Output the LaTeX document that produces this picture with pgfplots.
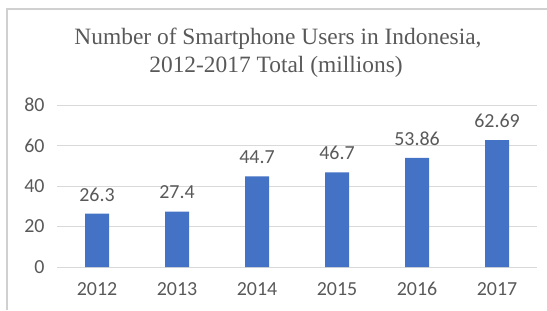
\documentclass[border=0pt]{standalone}
\usepackage{pgfplots}
\pgfplotsset{compat=1.18}
\usepackage{fontspec}
\setmainfont{Carlito}
\newfontfamily\titlefont{Liberation Serif}
\definecolor{barblue}{HTML}{4472C4}
\definecolor{txtgray}{HTML}{595959}
\definecolor{gridgray}{HTML}{D9D9D9}
\definecolor{framegray}{HTML}{D0D0D0}
\begin{document}
\begin{tikzpicture}[x=1bp,y=1bp]
\useasboundingbox (0,0) rectangle (547,310);
\draw[framegray,line width=1.5bp] (7,0) -- (7,301) -- (547,301);
\node[font=\titlefont\fontsize{23.5}{28}\selectfont,text=txtgray] at (278,271) {Number of Smartphone Users in Indonesia,};
\node[font=\titlefont\fontsize{23.5}{28}\selectfont,text=txtgray] at (276,243) {2012-2017 Total (millions)};
\begin{axis}[
  at={(57bp,43bp)}, anchor=south west,
  scale only axis, width=480bp, height=162bp,
  xmin=-0.5, xmax=5.5, ymin=0, ymax=80,
  ytick={0,20,40,60,80},
  xtick={0,1,2,3,4,5},
  xticklabels={2012,2013,2014,2015,2016,2017},
  axis line style={draw=none},
  major tick length=0pt,
  ymajorgrids, grid style={gridgray,line width=1bp},
  tick label style={font=\fontsize{20}{24}\selectfont,text=txtgray},
  /pgf/number format/assume math mode=true,
  yticklabel style={xshift=-9bp},
  xticklabel style={yshift=-12bp},
  clip=false,
]
\addplot[ybar, bar width=24bp, fill=barblue, draw=none,
  nodes near coords,
  point meta=explicit symbolic,
  every node near coord/.append style={font=\fontsize{20}{24}\selectfont,text=txtgray,yshift=9bp}]
  table[meta=label] {
x y label
0 26.3 26.3
1 27.4 27.4
2 44.7 44.7
3 46.7 46.7
4 53.86 53.86
5 62.69 62.69
};
\end{axis}
\end{tikzpicture}
\end{document}
